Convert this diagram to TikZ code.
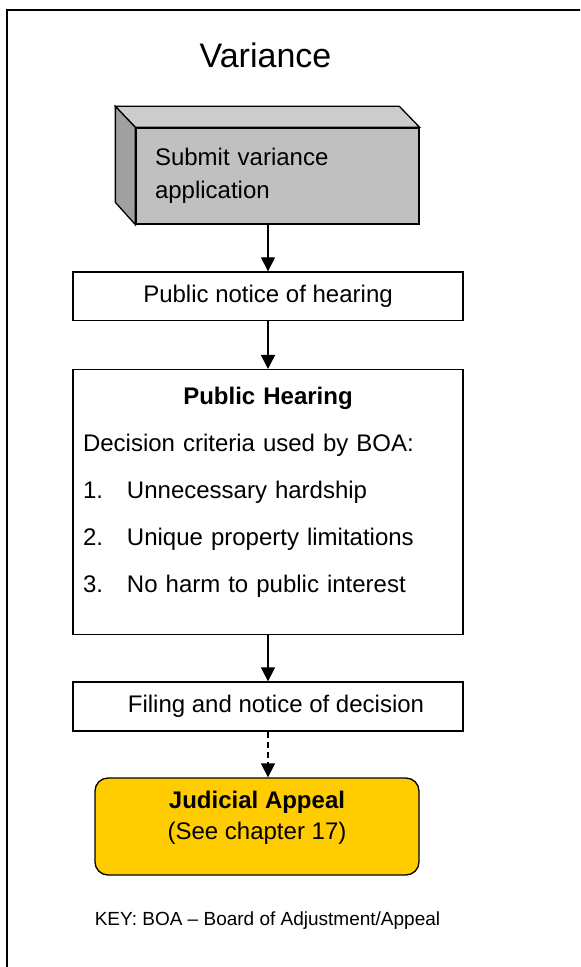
\documentclass[tikz,border=0pt]{standalone}
\usepackage{fontspec}
\setmainfont{Liberation Sans}
\usetikzlibrary{arrows.meta}
\setlength{\parindent}{0pt}
\definecolor{cubetop}{RGB}{204,204,204}
\definecolor{cubefront}{RGB}{192,192,192}
\definecolor{cubeside}{RGB}{160,160,160}
\definecolor{appealgold}{RGB}{255,204,0}
\begin{document}
\begin{tikzpicture}[x=0.5pt, y=-0.5pt, line width=0.65pt,
box/.style={draw, fill=white, minimum width=195pt, inner sep=0pt},
flow/.style={-{Triangle[width=7pt,length=7pt]}},
body/.style={font=\fontsize{12}{16.5}\selectfont}]
\useasboundingbox (0,0) rectangle (580,967);
\clip (0,0) rectangle (580,967);
\draw (7,10) rectangle (620,1000);
\node [font=\fontsize{17}{20}\selectfont] (title) at (265.5,55.5) {Variance};
% submit box, drawn as a block
\node [draw, fill=cubefront, minimum width=141.5pt, minimum height=48pt, inner xsep=9.5pt, text width=122.5pt, align=left, body] (sub) at (277.5,176) {Submit variance\\application};
\draw [fill=cubetop] (sub.north west) -- ++(-20,-21) -- ++(284,0) -- (sub.north east) -- cycle;
\draw [fill=cubeside] (sub.north west) -- ++(-20,-21) -- ++(0,96) -- (sub.south west) -- cycle;
\node [box, minimum height=24.25pt, body] (notice) at (268,296.25) {Public notice of hearing};
\draw [flow] (notice.north |- sub.south) -- (notice.north);
% hearing box
\node [box, minimum height=132.5pt, anchor=north] (hear) at (268,369) {};
\node [anchor=north, inner sep=0pt, text width=185pt, align=left, font=\fontsize{12}{23.5}\selectfont] (crit) at ([yshift=-8.75pt]hear.north) {{\centering\textbf{Public Hearing}\par}
Decision criteria used by BOA:\par
\makebox[22pt][l]{1.}Unnecessary hardship\par
\makebox[22pt][l]{2.}Unique property limitations\par
\makebox[22pt][l]{3.}No harm to public interest};
\draw [flow] (notice.south) -- (hear.north);
\node [box, minimum height=24.5pt, body] (filing) at (268,706.5) {\hspace{8pt}Filing and notice of decision};
\draw [flow] (hear.south) -- (filing.north);
% appeal
\node [draw, fill=appealgold, rounded corners=6.5pt, minimum width=162pt, minimum height=48.5pt] (appeal) at (257,826.5) {};
\node [align=center, font=\fontsize{12}{15.5}\selectfont] (appealTxt) at (257,817.5) {\textbf{Judicial Appeal}\\(See chapter 17)};
\draw [flow, dash pattern=on 3pt off 2pt] (filing.south) -- (filing.south |- appeal.north);
\node [font=\fontsize{9.5}{11}\selectfont] (key) at (267.5,921) {KEY: BOA – Board of Adjustment/Appeal};
\end{tikzpicture}
\end{document}
